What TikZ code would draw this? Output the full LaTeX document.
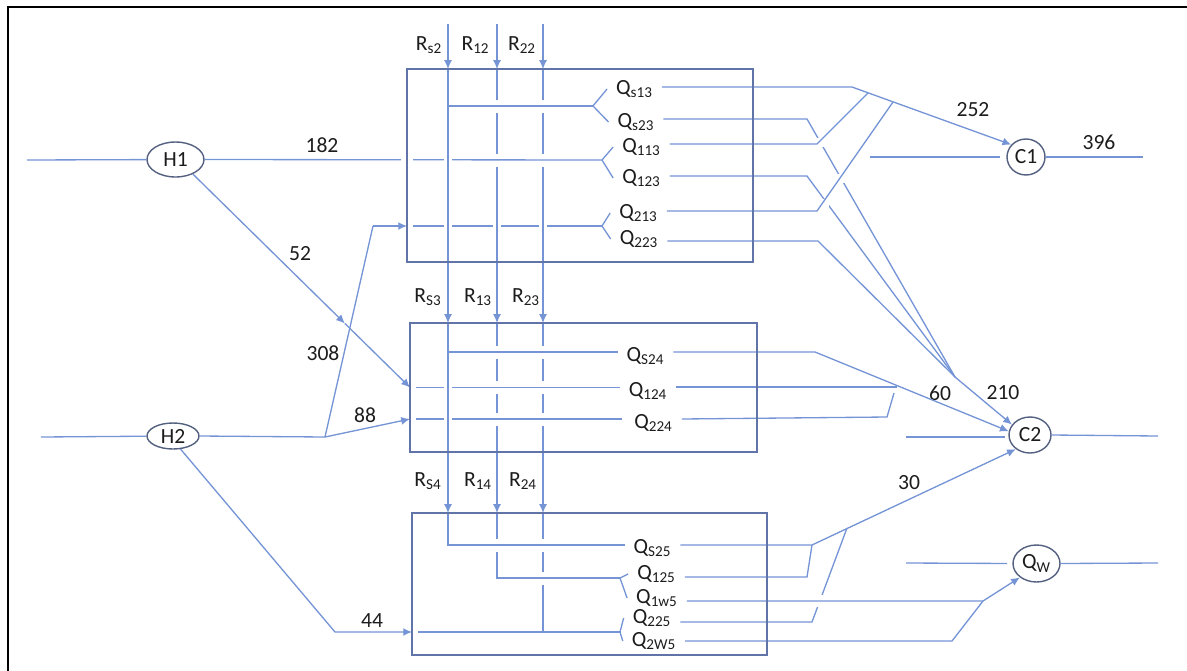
\documentclass[tikz,border=0pt]{standalone}
\usepackage{fontspec}
\setmainfont{Carlito}
\usepackage{xcolor}
\usetikzlibrary{arrows.meta, calc, shapes.geometric}

\definecolor{flowc}{RGB}{116,148,214}
\definecolor{unitc}{RGB}{96,116,168}
\definecolor{ellc}{RGB}{84,96,128}
\definecolor{txtc}{RGB}{28,28,28}

\tikzset{
  flow/.style={draw=flowc, line width=0.75pt},
  tip/.style={-{Latex[length=5pt,width=4.5pt]}},
  over/.style={preaction={draw=white, line width=5pt, -, shorten <=3pt, shorten >=3pt}},
  unit/.style={draw=unitc, line width=1.1pt},
  strm/.style={ellipse, draw=ellc, line width=0.8pt, inner sep=0pt},
  qlab/.style={inner xsep=5pt, inner ysep=1pt},
  blk/.style={inner sep=0pt, outer sep=0pt},
}

\begin{document}
\begin{tikzpicture}[x=0.02cm, y=-0.02cm, font=\fontsize{12.3}{14.5}\selectfont, text=txtc]
\useasboundingbox (0,0) rectangle (1187,670);
\draw[line width=1.3pt] (8,690) |- (1200,7);

% units (outlines drawn last)
\node[blk, minimum width=6.92cm, minimum height=3.86cm] (u1) at (580,165.5) {};
\node[blk, minimum width=6.94cm, minimum height=2.58cm] (u2) at (583.5,387.5) {};
\node[blk, minimum width=7.10cm, minimum height=2.84cm] (u3) at (589.5,584) {};

% streams
\node[strm, minimum width=1.14cm, minimum height=0.70cm] (H1) at (175.5,159.5) {H1};
\node[strm, minimum width=1.04cm, minimum height=0.52cm] (H2) at (173,436) {H2};
\node[strm, minimum width=0.76cm, minimum height=0.72cm] (C1) at (1026,157) {C1};
\node[strm, minimum width=0.84cm, minimum height=0.72cm] (C2) at (1030,435) {C2};
\node[strm, minimum width=0.94cm, minimum height=0.74cm] (Qw) at (1036.5,563.5) {Q\textsubscript{W}};

% regenerant labels
\node (rs2) at (429,45) {R\textsubscript{s2}};
\node (r12) at (475.5,45) {R\textsubscript{12}};
\node (r22) at (522,45) {R\textsubscript{22}};
\node (rs3) at (428,297) {R\textsubscript{S3}};
\node (r13) at (478,297) {R\textsubscript{13}};
\node (r23) at (526,297) {R\textsubscript{23}};
\node (rs4) at (428,481) {R\textsubscript{S4}};
\node (r14) at (478,481) {R\textsubscript{14}};
\node (r24) at (523,481) {R\textsubscript{24}};

% outlet labels
\node[qlab] (qs13) at (634.5,89) {Q\textsubscript{s13}};
\node[qlab] (qs23) at (636,122) {Q\textsubscript{s23}};
\node[qlab] (q113) at (641.5,147) {Q\textsubscript{113}};
\node[qlab] (q123) at (641.5,178) {Q\textsubscript{123}};
\node[qlab] (q213) at (638.5,213) {Q\textsubscript{213}};
\node[qlab] (q223) at (639,239) {Q\textsubscript{223}};
\node[qlab] (qs24) at (645.5,356) {Q\textsubscript{S24}};
\node[qlab] (q124) at (648,391) {Q\textsubscript{124}};
\node[qlab] (q224) at (653.5,423) {Q\textsubscript{224}};
\node[qlab] (qs25) at (652.5,548) {Q\textsubscript{S25}};
\node[qlab] (q125) at (656.5,574) {Q\textsubscript{125}};
\node[qlab] (q1w5) at (657,598) {Q\textsubscript{1w5}};
\node[qlab] (q225) at (652,618) {Q\textsubscript{225}};
\node[qlab] (q2w5) at (654,641) {Q\textsubscript{2W5}};

% flow values
\node (f182) at (322,145) {182};
\node (f52) at (300,254) {52};
\node (f308) at (323,353) {308};
\node (f88) at (365,415) {88};
\node (f44) at (372,621) {44};
\node (f252) at (973,110) {252};
\node (f396) at (1099,142) {396};
\node (f60) at (940,393) {60};
\node (f210) at (1003,393) {210};
\node (f30) at (909,483) {30};

% points
\coordinate (rs) at (448,24);
\coordinate (r1) at (497,24);
\coordinate (r2) at (543,24);
\coordinate (h1in) at (27,160);
\coordinate (h2in) at (41,437);
\coordinate (s2) at (325,437);
\coordinate (k1) at (373,226);
\coordinate (k2) at (335,632);
\coordinate (b1a) at (593,106);
\coordinate (b1b) at (602,160);
\coordinate (b1c) at (602,226);
\coordinate (b2c) at (622,419);
\coordinate (b3a) at (620,578);
\coordinate (b3b) at (620,632);
\coordinate (e1) at (852,87);
\coordinate (e2) at (807,119);
\coordinate (e3) at (817,144);
\coordinate (e4) at (807,176);
\coordinate (e5) at (817,211);
\coordinate (e6) at (818,241);
\coordinate (m1) at (868,93);
\coordinate (m2) at (893,102);
\coordinate (jc) at (955,377);
\coordinate (e7) at (815,352);
\coordinate (m3) at (897,387);
\coordinate (e8) at (887,417);
\coordinate (e9) at (894,393);
\coordinate (j3) at (812,545);
\coordinate (e10) at (807,577);
\coordinate (e11) at (812,622);
\coordinate (m4) at (847,528);
\coordinate (j4) at (983,601);
\coordinate (e12) at (952,641);
\coordinate (c1in) at (870,157);
\coordinate (c1out) at (1143,157);
\coordinate (c2in) at (906,437);
\coordinate (c2out) at (1158,436);
\coordinate (qwin) at (906,563);
\coordinate (qwout) at (1158,563);

% mixed feed of unit 1 (crossed by the regenerant lines)
\draw[flow] ($(k1 -| u1.west)+(6,0)$) -- (b1c);
\draw[flow] (b1c) -- (q213.west);
\draw[flow] (b1c) -- (q223.west);

% regenerant lines R1x, R2x
\foreach \r in {r1,r2} {
  \draw[flow,tip] (\r) -- (\r |- u1.north);
  \draw[flow,tip,over] (\r |- u1.north) -- (\r |- u2.north);
  \draw[flow,tip,over] (\r |- u2.north) -- (\r |- u3.north);
}
\draw[flow] (r2 |- u3.north) -- (r2 |- b3b);
% breaks where streams pass over R1x, R2x
\foreach \p in {(497,106),(543,106),(497,160),(543,160),(497,352),(543,352),
                (497,387),(543,387),(497,419),(543,419),(543,578)}
  \fill[white] \p ++(-3,-6.5) rectangle ++(6,13);
\draw[flow] (r1 |- u3.north) |- (b3a);
\draw[flow] (b3a) -- (q125.west);
\draw[flow] (b3a) -- (q1w5.west);
\foreach \p in {(497,545),(543,545)}
  \fill[white] \p ++(-3,-6.5) rectangle ++(6,13);

% hot streams into the units
\draw[flow] (h1in) -- (H1);
\draw[flow] (h2in) -- (H2);
\draw[flow] (H1.east) -- (b1b);
\draw[flow] (b1b) -- (q113.west);
\draw[flow] (b1b) -- (q123.west);
\coordinate (h1m) at ($(H1.-40)!0.7!(u2.west)$);
\draw[flow,tip] (H1.-40) -- (h1m);
\draw[flow,tip] (h1m) -- (u2.west);
\draw[flow] (H2.east) -- (s2);
\draw[flow] (s2) -- (k1);
\draw[flow,tip] (k1) -- (k1 -| u1.west);
\draw[flow,tip] (s2) -- (u2.west |- b2c);
\draw[flow,tip] (H2.-60) -- (k2) -- (k2 -| u3.west);
\draw[flow] ($(u2.west)+(6,0)$) -- (q124.west |- u2.west);
\draw[flow] ($(u2.west |- b2c)+(6,0)$) -- (b2c);
\draw[flow] ($(k2 -| u3.west)+(6,0)$) -- (b3b);
\draw[flow] (b3b) -- (q225.west);
\draw[flow] (b3b) -- (q2w5.west);

% regenerant line Rs
\draw[flow,tip] (rs) -- (rs |- u1.north);
\draw[flow,tip,over] (rs |- u1.north) -- (rs |- u2.north);
\draw[flow,tip,over] (rs |- u2.north) -- (rs |- u3.north);
\draw[flow] (rs |- u3.north) |- (qs25.west |- j3);
\draw[flow] (rs |- b1a) -- (b1a);
\draw[flow] (b1a) -- (qs13.west);
\draw[flow] (b1a) -- (qs23.west);
\draw[flow] (rs |- e7) -- (qs24.west |- e7);

% outlets of unit 1
\draw[flow] (qs23.east |- e2) -- (e2) -- (jc);
\draw[flow] (q123.east |- e4) -- (e4) -- (jc);
\draw[flow] (q223.east |- e6) -- (e6) -- (jc);
\foreach \p in {(821,142),(841,178),(824,203)}
  \fill[white] \p ++(-4.5,-4.5) rectangle ++(9,9);
\draw[flow] (q113.east |- e3) -- (e3) -- (m1);
\draw[flow] (q213.east |- e5) -- (e5) -- (m2);
\draw[flow,tip] (qs13.east |- e1) -- (e1) -- (C1.140);
\draw[flow,tip] (jc) -- (C2.150);

% outlets of unit 2
\draw[flow,tip] (qs24.east |- e7) -- (e7) -- (C2.170);
\draw[flow] (q124.east |- m3) -- (m3);
\draw[flow] (q224.east |- b2c) -- (e8) -- (e9);

% outlets of unit 3
\draw[flow,tip] (qs25.east |- j3) -- (j3) -- (C2.225);
\draw[flow] (q125.east |- e10) -- (e10) -- (j3);
\draw[flow] (q225.east |- e11) -- (e11) -- (m4);
\fill[white] (820,601) ++(-4.5,-6) rectangle ++(9,12);
\draw[flow,tip] (q1w5.east |- j4) -- (j4) -- (Qw.220);
\draw[flow] (q2w5.east |- e12) -- (e12) -- (j4);

% cold streams
\draw[flow,shorten >=3.5pt] (c1in) -- (C1.west);
\draw[flow] (C1.east) -- (c1out);
\draw[flow,shorten >=2pt] (c2in) -- (C2.west |- c2in);
\draw[flow] (C2.east) -- (c2out);
\draw[flow,shorten >=3pt] (qwin) -- (Qw.west);
\draw[flow] (Qw.east) -- (qwout);

\fill[white] (407,160) ++(-6,-2) rectangle ++(12,4);
\foreach \u in {u1,u2,u3}
  \draw[unit] (\u.north west) rectangle (\u.south east);
\end{tikzpicture}
\end{document}
